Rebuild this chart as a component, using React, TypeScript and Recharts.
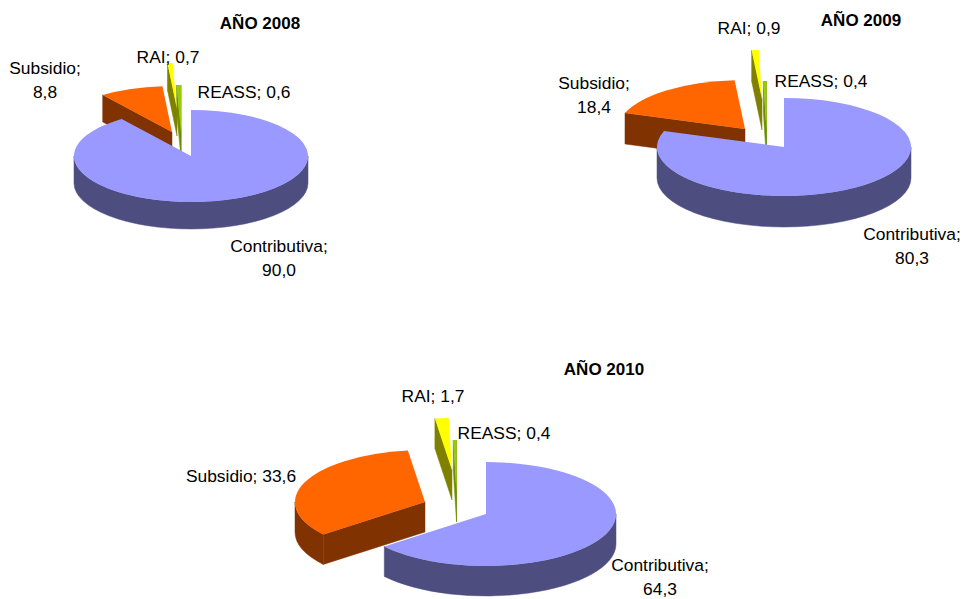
import React from "react";
import { PieChart, Pie } from "recharts";

// drawn back to front, counter-clockwise from 12 o'clock
const categories = ["REASS", "RAI", "Subsidio", "Contributiva"];
const values2008 = [0.6, 0.7, 8.8, 90.0];
const values2009 = [0.4, 0.9, 18.4, 80.3];
const values2010 = [0.4, 1.7, 33.6, 64.3];

const topColors: Record<string, string> = { REASS: "#99cc00", RAI: "#ffff00", Subsidio: "#ff6600", Contributiva: "#9999ff" };
const sideColors: Record<string, string> = { REASS: "#6b8f00", RAI: "#808000", Subsidio: "#803300", Contributiva: "#4d4d80" };

type LabelPos = { x: number; y: number; wrap?: boolean };
type PieLayout = {
  title: string;
  titleX: number;
  titleY: number;
  cx: number;
  cy: number;
  rx: number;
  ry: number;
  depth: number;
  explode: Record<string, number[]>;
  labels: Record<string, LabelPos>;
};

const layout2008: PieLayout = {
  title: "AÑO 2008", titleX: 260, titleY: 29,
  cx: 191, cy: 156, rx: 117, ry: 46, depth: 27,
  explode: { REASS: [-10, -25], RAI: [-14, -47], Subsidio: [-19, -24], Contributiva: [0, 0] },
  labels: {
    Subsidio: { x: 45, y: 74, wrap: true },
    RAI: { x: 168, y: 63 },
    REASS: { x: 244, y: 98 },
    Contributiva: { x: 279, y: 252, wrap: true },
  },
};

const layout2009: PieLayout = {
  title: "AÑO 2009", titleX: 861, titleY: 26,
  cx: 784, cy: 147, rx: 127, ry: 49, depth: 31,
  explode: { REASS: [-17.5, -17], RAI: [-22, -48], Subsidio: [-39, -18], Contributiva: [0, 0] },
  labels: {
    Subsidio: { x: 594, y: 89, wrap: true },
    RAI: { x: 749, y: 34 },
    REASS: { x: 821, y: 87 },
    Contributiva: { x: 912, y: 240, wrap: true },
  },
};

const layout2010: PieLayout = {
  title: "AÑO 2010", titleX: 604, titleY: 375,
  cx: 486, cy: 514, rx: 130, ry: 52, depth: 30,
  explode: { REASS: [-29.5, -22], RAI: [-34, -44], Subsidio: [-61, -12], Contributiva: [0, 0] },
  labels: {
    Subsidio: { x: 241, y: 482 },
    RAI: { x: 433, y: 402 },
    REASS: { x: 504, y: 439 },
    Contributiva: { x: 660, y: 571, wrap: true },
  },
};

const FONT = "'Liberation Sans', Arial, sans-serif";

function fmt(v: number) {
  return v.toFixed(1).replace(".", ",");
}

// recharts has no 3D pie, so each sector it computes gets squashed and extruded here
function make3dSlice(cfg: PieLayout) {
  return function Slice3d(props: any) {
    const name = props.name ?? props.payload?.name;
    const [dx, dy] = cfg.explode[name] ?? [0, 0];
    const ax = cfg.cx + dx;
    const ay = cfg.cy + dy;
    const { rx, ry, depth } = cfg;
    const a = Math.min(props.startAngle, props.endAngle);
    const b = Math.max(props.startAngle, props.endAngle);
    const pt = (deg: number, down = 0) => {
      const t = (deg * Math.PI) / 180;
      return [ax + rx * Math.cos(t), ay - ry * Math.sin(t) + down];
    };
    const arc = (from: number, to: number, sweep: number) => {
      const large = Math.abs(to - from) > 180 ? 1 : 0;
      return `${rx} ${ry} 0 ${large} ${sweep}`;
    };
    const side = sideColors[name];
    const walls: string[] = [];

    // outer wall, only the front half of the rim shows
    for (const k of [0, 360]) {
      const s = Math.max(a, 180 + k);
      const e = Math.min(b, 360 + k);
      if (e > s) {
        const p1 = pt(s);
        const p2 = pt(e);
        const p3 = pt(e, depth);
        const p4 = pt(s, depth);
        walls.push(
          `M${p1[0]} ${p1[1]} A${arc(s, e, 0)} ${p2[0]} ${p2[1]} L${p3[0]} ${p3[1]} A${arc(s, e, 1)} ${p4[0]} ${p4[1]} Z`
        );
      }
    }
    // cut faces, visible when they turn towards the viewer
    const cutFace = (deg: number) => {
      const p = pt(deg);
      const q = pt(deg, depth);
      return `M${ax} ${ay} L${p[0]} ${p[1]} L${q[0]} ${q[1]} L${ax} ${ay + depth} Z`;
    };
    if (Math.cos((a * Math.PI) / 180) > 0) walls.push(cutFace(a));
    if (Math.cos((b * Math.PI) / 180) < 0) walls.push(cutFace(b));

    const s0 = pt(a);
    const e0 = pt(b);
    const top = `M${ax} ${ay} L${s0[0]} ${s0[1]} A${arc(a, b, 0)} ${e0[0]} ${e0[1]} Z`;

    return (
      <g>
        {walls.map((d, i) => (
          <path key={i} d={d} fill={side} stroke={side} strokeWidth={0.5} />
        ))}
        <path d={top} fill={topColors[name]} />
      </g>
    );
  };
}

function makeLabel(cfg: PieLayout) {
  return function SliceLabel(props: any) {
    const name = props.name ?? props.payload?.name;
    const pos = cfg.labels[name];
    const val = fmt(props.value);
    return (
      <text x={pos.x} y={pos.y} textAnchor="middle" fill="#000" fontFamily={FONT} fontSize={17.4}>
        {pos.wrap ? (
          <>
            <tspan x={pos.x}>{name};</tspan>
            <tspan x={pos.x} dy={24}>{val}</tspan>
          </>
        ) : (
          `${name}; ${val}`
        )}
      </text>
    );
  };
}

function rows(values: number[]) {
  return categories.map((name, i) => ({ name, value: values[i] }));
}

const charts: { cfg: PieLayout; values: number[] }[] = [
  { cfg: layout2008, values: values2008 },
  { cfg: layout2009, values: values2009 },
  { cfg: layout2010, values: values2010 },
];

export default function App() {
  return (
    <div style={{ position: "absolute", left: 0, top: 0, width: 963, height: 599, background: "#fff" }}>
      <PieChart width={963} height={599} margin={{ top: 0, right: 0, bottom: 0, left: 0 }}>
        {charts.map(({ cfg, values }) => (
          <Pie
            key={cfg.title}
            data={rows(values)}
            dataKey="value"
            nameKey="name"
            cx={cfg.cx}
            cy={cfg.cy}
            innerRadius={0}
            outerRadius={cfg.rx}
            startAngle={90}
            endAngle={450}
            stroke="none"
            shape={make3dSlice(cfg)}
            label={makeLabel(cfg)}
            labelLine={false}
            isAnimationActive={false}
          />
        ))}
        {charts.map(({ cfg }) => (
          <text key={cfg.title} x={cfg.titleX} y={cfg.titleY} textAnchor="middle" fontFamily={FONT} fontSize={17} fontWeight="bold" fill="#000">
            {cfg.title}
          </text>
        ))}
      </PieChart>
    </div>
  );
}
